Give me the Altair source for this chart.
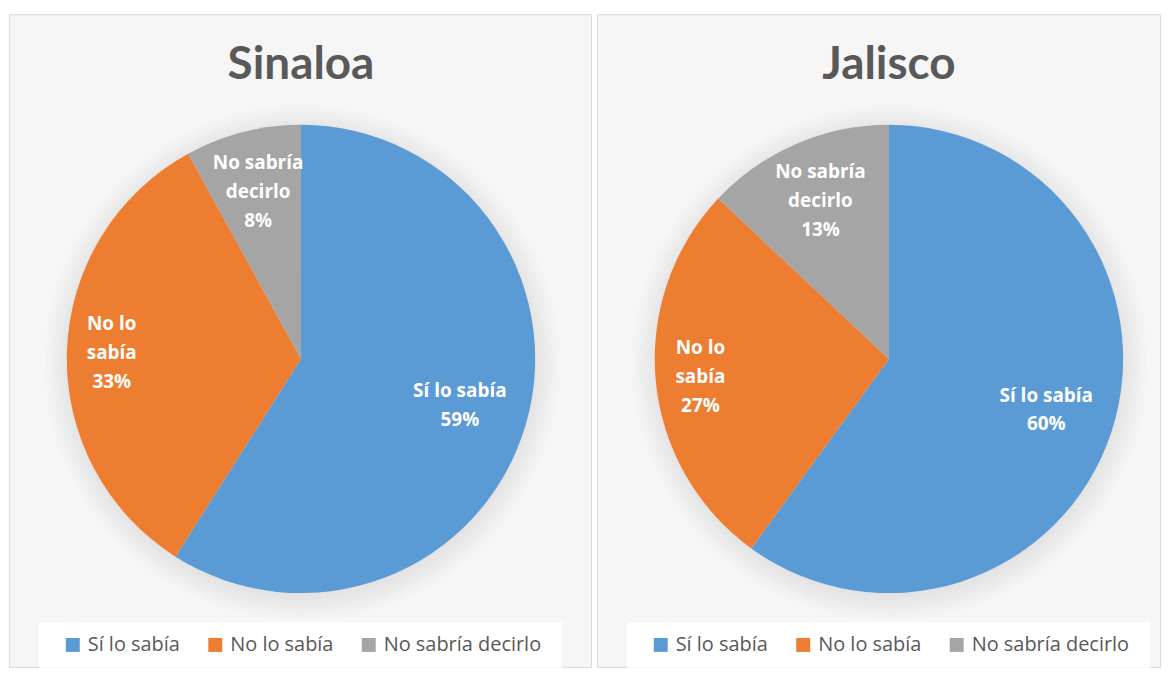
import altair as alt
import pandas as pd

categories = ["Sí lo sabía", "No lo sabía", "No sabría decirlo"]
wrapped = ["Sí lo sabía", "No lo\nsabía", "No sabría\ndecirlo"]
states = ["Sinaloa", "Jalisco"]
sinaloa_pct = [59, 33, 8]
jalisco_pct = [60, 27, 13]
colors = ["#5B9BD5", "#ED7D31", "#A5A5A5"]

FONT = "Lato"
LFONT = "Open Sans"
W1, W2, H = 584, 565, 655
CX, CY, R = 293, 346, 235
LABEL_R = [166, 190, 173]
LH = 29


def make_df(vals):
    labels = [f"{w}\n{v}%" for w, v in zip(wrapped, vals)]
    return pd.DataFrame({
        "cat": categories,
        "idx": list(range(len(categories))),
        "pct": vals,
        "label": labels,
        "nlines": [s.count("\n") + 1 for s in labels],
        "lr": LABEL_R,
    })


def panel(title, vals, width):
    df = make_df(vals)
    base = alt.Chart(df)
    shadow = alt.Chart(pd.DataFrame({"a": [0]})).mark_arc(
        radius=R + 24, theta=0, theta2=6.2832,
        fill={"gradient": "radial", "x1": 0.5, "y1": 0.5, "x2": 0.5, "y2": 0.5,
              "r1": 0, "r2": 0.5,
              "stops": [{"offset": 0.0, "color": "rgba(0,0,0,0.09)"},
                        {"offset": 0.88, "color": "rgba(0,0,0,0.09)"},
                        {"offset": 1.0, "color": "rgba(0,0,0,0)"}]},
    ).encode(x=alt.value(CX + 1), y=alt.value(CY + 4))
    pie = base.mark_arc(radius=R).encode(
        theta=alt.Theta("pct:Q", stack=True),
        order=alt.Order("idx:Q"),
        color=alt.Color("cat:N", sort=categories,
                        scale=alt.Scale(domain=categories, range=colors),
                        legend=alt.Legend(
                            title=None, orient="none", direction="horizontal",
                            legendX=54, legendY=623,
                            symbolType="square", symbolSize=196,
                            symbolStrokeWidth=0,
                            labelFont=LFONT, labelFontSize=20, labelLimit=400,
                            labelColor="#595959", labelOffset=5,
                            columnPadding=25, padding=0)),
        x=alt.value(CX), y=alt.value(CY),
    )
    lab_base = base.transform_window(
        cum="sum(pct)", sort=[alt.SortField("idx")], frame=[None, 0]
    ).transform_calculate(
        mid="datum.cum - datum.pct / 2"
    )
    label_layers = []
    for n in (2, 3):
        label_layers.append(
            lab_base.transform_filter(alt.datum.nlines == n).mark_text(
                font=LFONT, fontSize=19, fontWeight="bold", color="white",
                lineBreak="\n", lineHeight=LH, align="center", baseline="middle",
                dy=-(n - 1) * LH / 2,
            ).encode(
                theta=alt.Theta("mid:Q", stack=None,
                                scale=alt.Scale(domain=[0, 100], range=[0, 6.283185])),
                radius=alt.Radius("lr:Q", scale=None),
                text="label:N",
                x=alt.value(CX), y=alt.value(CY),
            )
        )
    legend_box = alt.Chart(pd.DataFrame({"a": [0]})).mark_rect(
        color="white").encode(
        x=alt.value(30), x2=alt.value(555), y=alt.value(610), y2=alt.value(656))
    ttl = alt.Chart(pd.DataFrame({"t": [title]})).mark_text(
        font=FONT, fontSize=46, fontWeight="bold", color="#595959",
        align="center", baseline="middle",
    ).encode(text="t:N", x=alt.value(CX), y=alt.value(51))
    return alt.layer(legend_box, shadow, pie, *label_layers, ttl).properties(
        width=width, height=H)


chart = alt.hconcat(
    panel(states[0], sinaloa_pct, W1),
    panel(states[1], jalisco_pct, W2),
    spacing=4,
).resolve_legend(color="independent").resolve_scale(theta="independent").properties(
    padding={"left": 0, "top": 4, "right": 0, "bottom": 0},
    background="white",
).configure_view(fill="#F6F6F6", stroke="#D9D9D9", strokeWidth=1)

chart.save("out.html", embed_options={"renderer": "svg", "actions": False})
